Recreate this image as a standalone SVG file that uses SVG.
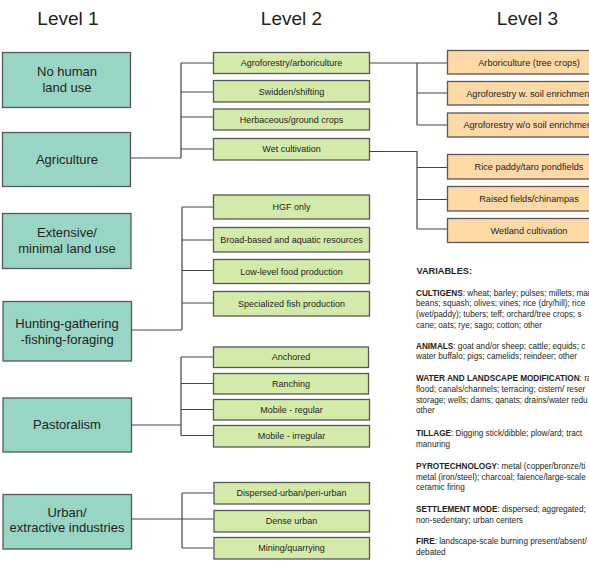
<svg xmlns="http://www.w3.org/2000/svg" width="589" height="562" viewBox="0 0 589 562">
<style>
text{font-family:"Liberation Sans",Arial,sans-serif;fill:#231f20}
.hd{font-size:19px;text-anchor:middle}
.l1 rect{fill:#98d5c5;stroke:#575757;stroke-width:1.3}
.l2 rect{fill:#d3eaab;stroke:#575757;stroke-width:1.3}
.l3 rect{fill:#fed9a5;stroke:#575757;stroke-width:1.3}
.l1 text{font-size:13px;text-anchor:middle}
.l2 text{font-size:9px;text-anchor:middle}
.l3 text{font-size:9.2px;text-anchor:middle}
.con path{fill:none;stroke:#444;stroke-width:1.2}
.var text{font-size:8.2px}
.var tspan.b{font-weight:bold}
</style>
<rect width="589" height="562" fill="#fff"/>
<text class="hd" x="68" y="25">Level 1</text>
<text class="hd" x="291.5" y="25">Level 2</text>
<text class="hd" x="527.5" y="25">Level 3</text>

<g id="connectors" class="con">
<path d="M130.5 158H181M181 63V158M181 63H213.5M181 92H213.5M181 117H213.5M181 149H213.5"/>
<path d="M369.5 63H447.5M417 63V125M417 93H447.5M417 125H447.5"/>
<path d="M369.5 151.5H417V229M417 167.5H447.5M417 199.5H447.5M417 229H447.5"/>
<path d="M131.5 330H182M182 207V330M182 207H213.5M182 240H213.5M182 270.5H213.5M182 303H213.5"/>
<path d="M131.5 425H181M181 357V435.5M181 357H213.5M181 383.5H213.5M181 409.5H213.5M181 435.5H213.5"/>
<path d="M131.5 519H213.5M182 493V548M182 493H213.5M182 548H213.5"/>
</g>

<g id="n-nohuman" class="l1"><rect x="2.5" y="52.5" width="128" height="55"/><text x="67" y="76">No human</text><text x="67" y="92">land use</text></g>
<g id="n-agriculture" class="l1"><rect x="2.5" y="132.5" width="128" height="54"/><text x="67" y="163.5">Agriculture</text></g>
<g id="n-extensive" class="l1"><rect x="2.5" y="213.5" width="128.5" height="55"/><text x="67" y="237">Extensive/</text><text x="67" y="253">minimal land use</text></g>
<g id="n-hgf" class="l1"><rect x="3" y="301.5" width="128.5" height="59.5"/><text x="67" y="327.7">Hunting-gathering</text><text x="67" y="343.5">-fishing-foraging</text></g>
<g id="n-pastoralism" class="l1"><rect x="3" y="398" width="128.5" height="54"/><text x="67" y="428.5">Pastoralism</text></g>
<g id="n-urban" class="l1"><rect x="3" y="494.5" width="128.5" height="54.5"/><text x="67" y="516.7">Urban/</text><text x="67" y="532.3">extractive industries</text></g>

<g id="n-agroforestry" class="l2"><rect x="213.5" y="52.5" width="156" height="21"/><text x="291.5" y="66.2">Agroforestry/arboriculture</text></g>
<g id="n-swidden" class="l2"><rect x="213.5" y="80.5" width="156" height="21.5"/><text x="291.5" y="94.5">Swidden/shifting</text></g>
<g id="n-herbaceous" class="l2"><rect x="213.5" y="109" width="156" height="21"/><text x="291.5" y="122.7">Herbaceous/ground crops</text></g>
<g id="n-wet" class="l2"><rect x="213.5" y="138.5" width="156" height="21.5"/><text x="291.5" y="152.3">Wet cultivation</text></g>
<g id="n-hgfonly" class="l2"><rect x="213.5" y="195" width="156" height="24"/><text x="291.5" y="210.2">HGF only</text></g>
<g id="n-broad" class="l2"><rect x="213.5" y="227.5" width="156" height="24.5"/><text x="291.5" y="242.9">Broad-based and aquatic resources</text></g>
<g id="n-lowlevel" class="l2"><rect x="213.5" y="259.5" width="156" height="24"/><text x="291.5" y="274.6">Low-level food production</text></g>
<g id="n-fish" class="l2"><rect x="213.5" y="291.5" width="156" height="24.5"/><text x="291.5" y="306.9">Specialized fish production</text></g>
<g id="n-anchored" class="l2"><rect x="213.5" y="347" width="155" height="20.5"/><text x="291" y="360.4">Anchored</text></g>
<g id="n-ranching" class="l2"><rect x="213.5" y="373.5" width="155" height="20.5"/><text x="291" y="386.9">Ranching</text></g>
<g id="n-mobreg" class="l2"><rect x="213.5" y="399.5" width="156" height="20.5"/><text x="291.5" y="412.9">Mobile - regular</text></g>
<g id="n-mobirr" class="l2"><rect x="213.5" y="425.5" width="156" height="21.5"/><text x="291.5" y="439.4">Mobile - irregular</text></g>
<g id="n-dispersed" class="l2"><rect x="214" y="482.5" width="155.5" height="21.5"/><text x="291.5" y="496.4">Dispersed-urban/peri-urban</text></g>
<g id="n-dense" class="l2"><rect x="214" y="510.5" width="155.5" height="21.5"/><text x="291.5" y="524.4">Dense urban</text></g>
<g id="n-mining" class="l2"><rect x="214" y="537.5" width="155.5" height="21.5"/><text x="291.5" y="551.4">Mining/quarrying</text></g>

<g id="n-arbor" class="l3"><rect x="447.5" y="50.5" width="164" height="23.5"/><text x="529" y="65.5">Arboriculture (tree crops)</text></g>
<g id="n-agrow" class="l3"><rect x="447.5" y="81.5" width="164" height="23.5"/><text x="529" y="96.5">Agroforestry w. soil enrichment</text></g>
<g id="n-agrowo" class="l3"><rect x="447.5" y="113" width="164" height="24"/><text x="529" y="128.2">Agroforestry w/o soil enrichment</text></g>
<g id="n-rice" class="l3"><rect x="447.5" y="154.5" width="164" height="24.5"/><text x="529" y="170">Rice paddy/taro pondfields</text></g>
<g id="n-raised" class="l3"><rect x="447.5" y="186.5" width="164" height="24.5"/><text x="529" y="202">Raised fields/chinampas</text></g>
<g id="n-wetland" class="l3"><rect x="447.5" y="218.5" width="164" height="24"/><text x="529" y="233.8">Wetland cultivation</text></g>

<g id="variables" class="var">
<text x="416.5" y="273.5" style="font-size:9.2px;font-weight:bold">VARIABLES:</text>
<text x="416" y="295.5"><tspan class="b">CULTIGENS</tspan>: wheat; barley; pulses; millets; mai</text>
<text x="416" y="306.3">beans; squash; olives; vines; rice (dry/hill); rice</text>
<text x="416" y="317.1">(wet/paddy); tubers; teff; orchard/tree crops; s</text>
<text x="416" y="327.9">cane; oats; rye; sago; cotton; other</text>
<text x="416" y="348.5"><tspan class="b">ANIMALS</tspan>: goat and/or sheep; cattle; equids; c</text>
<text x="416" y="359.3">water buffalo; pigs; camelids; reindeer; other</text>
<text x="416" y="381"><tspan class="b">WATER AND LANDSCAPE MODIFICATION</tspan>: ra</text>
<text x="416" y="391.8">flood; canals/channels; terracing; cistern/ reser</text>
<text x="416" y="402.6">storage; wells; dams; qanats; drains/water redu</text>
<text x="416" y="413.4">other</text>
<text x="416" y="436"><tspan class="b">TILLAGE</tspan>: Digging stick/dibble; plow/ard; tract</text>
<text x="416" y="446.8">manuring</text>
<text x="416" y="468.7"><tspan class="b">PYROTECHNOLOGY</tspan>: metal (copper/bronze/ti</text>
<text x="416" y="479.5">metal (iron/steel); charcoal; faience/large-scale</text>
<text x="416" y="490.3">ceramic firing</text>
<text x="416" y="511.7"><tspan class="b">SETTLEMENT MODE</tspan>: dispersed; aggregated;</text>
<text x="416" y="522.5">non-sedentary; urban centers</text>
<text x="416" y="544"><tspan class="b">FIRE</tspan>: landscape-scale burning present/absent/</text>
<text x="416" y="554.8">debated</text>
</g>
</svg>
